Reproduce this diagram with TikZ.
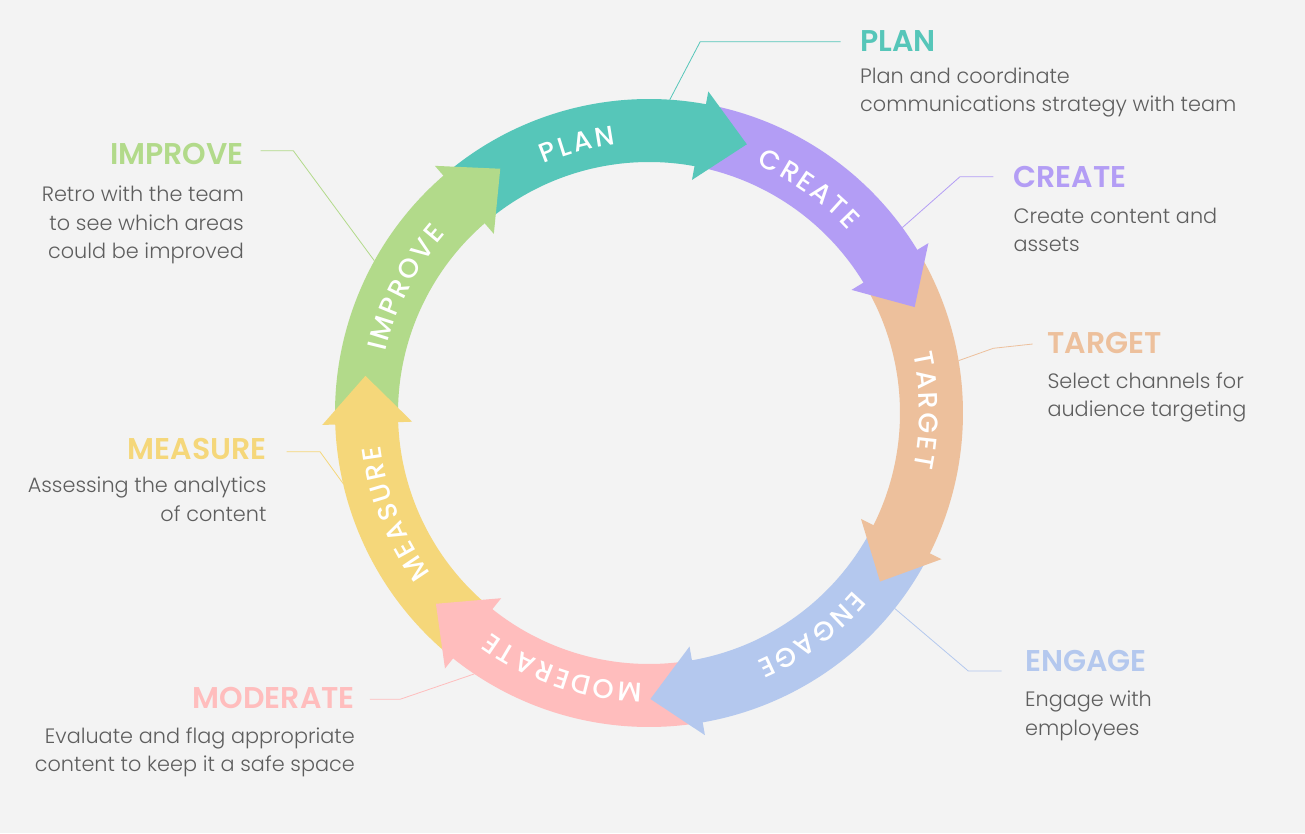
\documentclass[tikz,border=0pt]{standalone}
\usepackage{fontspec}
\setmainfont{Poppins}
\newfontfamily\descfont{Poppins Light}
\newfontfamily\headfont{Poppins SemiBold}
\newfontfamily\ringfont{Poppins Medium}
\usetikzlibrary{decorations.text,calc}
\definecolor{bg}{HTML}{F3F3F3}
\definecolor{cplan}{HTML}{56C6B9}
\definecolor{ccreate}{HTML}{B39DF5}
\definecolor{ctarget}{HTML}{EDC09C}
\definecolor{cengage}{HTML}{B4C8EE}
\definecolor{cmoderate}{HTML}{FFBDBD}
\definecolor{cmeasure}{HTML}{F5D77A}
\definecolor{cimprove}{HTML}{B2DA8A}
\definecolor{desc}{HTML}{5E5E5E}
\newcommand{\arcshaft}[3]{\fill[#1] (#2:314pt) arc[start angle=#2, end angle=#3, radius=314pt] -- (#3:251pt) arc[start angle=#3, end angle=#2, radius=251pt] -- cycle;}
\newcommand{\archead}[2]{\fill[#1] (#2:327pt) -- (#2-9.56:286pt) -- (#2:237pt) -- cycle;}
\newcommand{\rf}{\ringfont\fontsize{27}{27}\selectfont}
\newcommand{\ringlabel}[2]{\path[decorate,decoration={text along path,text color=white,text align=center,text={|\rf|#2}}] (#1+40:270.5pt) arc[start angle=#1+40, end angle=#1-40, radius=270.5pt];}
\tikzset{
  headsty/.style={font=\headfont\fontsize{30}{30}\selectfont, inner sep=0pt},
  descsty/.style={font=\descfont\fontsize{20.8}{20.8}\selectfont, text=desc, inner sep=0pt},
  leader/.style={line width=0.8pt},
}
\def\s{{\kern2.6pt}}
\begin{document}
\begin{tikzpicture}[x=1pt,y=1pt]
\fill[bg] (-649,-420) rectangle (656,413);
\useasboundingbox (-649,-420) rectangle (656,413);
% shafts (each starts inside the previous arrow head)
\arcshaft{cplan}{130.4}{79.05}
\arcshaft{ccreate}{79.05}{30.8}
\arcshaft{ctarget}{30.8}{-27.05}
\arcshaft{cengage}{-27.05}{-80.65}
\arcshaft{cmoderate}{-80.65}{-129.1}
\arcshaft{cmeasure}{-129.1}{-178.4}
\arcshaft{cimprove}{181.6}{130.4}
% heads
\archead{cplan}{79.55}
\archead{ccreate}{31.3}
\archead{ctarget}{-26.55}
\archead{cengage}{-80.15}
\archead{cmoderate}{-128.6}
\archead{cmeasure}{-177.9}
\archead{cimprove}{130.9}
% ring labels
\ringlabel{105}{P\s L\s A\s N}
\ringlabel{54.5}{C\s R\s E\s A\s T\s E}
\ringlabel{0.5}{T\s A\s R\s G\s E\s T}
\ringlabel{-53.7}{E\s N\s G\s A\s G\s E}
\ringlabel{-108.6}{M\s O\s D\s E\s R\s A\s T\s E}
\ringlabel{-158.4}{M\s E\s A\s S\s U\s R\s E}
\ringlabel{152.8}{I\s M\s P\s R\s O\s V\s E}
% PLAN
\node[headsty,text=cplan,anchor=base west] (hplan) at (211,361.3) {PLAN};
\node[descsty,anchor=base west] (dplan1) at (211,329.7) {Plan and coordinate};
\node[descsty,anchor=base west] (dplan2) at (211,301.3) {communications strategy with team};
\coordinate (lplan0) at (86.2:314pt);
\coordinate (lplan1) at (51.2,371.3);
\coordinate (lplan2) at (191.6,371.3);
\draw[leader,cplan] (lplan0) -- (lplan1) -- (lplan2);
% CREATE
\node[headsty,text=ccreate,anchor=base west] (hcreate) at (364.3,225.3) {CREATE};
\node[descsty,anchor=base west] (dcreate1) at (364.3,189.7) {Create content and};
\node[descsty,anchor=base west] (dcreate2) at (364.3,161.3) {assets};
\coordinate (lcreate0) at (36.2:314pt);
\coordinate (lcreate1) at (311,236.3);
\coordinate (lcreate2) at (344.3,236.3);
\draw[leader,ccreate] (lcreate0) -- (lcreate1) -- (lcreate2);
% TARGET
\node[headsty,text=ctarget,anchor=base west] (htarget) at (398.3,59.7) {TARGET};
\node[descsty,anchor=base west] (dtarget1) at (398.3,24.7) {Select channels for};
\node[descsty,anchor=base west] (dtarget2) at (398.3,-3.7) {audience targeting};
\coordinate (ltarget0) at (9.6:314pt);
\coordinate (ltarget1) at (344.3,64.7);
\coordinate (ltarget2) at (383.7,69);
\draw[leader,ctarget] (ltarget0) -- (ltarget1) -- (ltarget2);
% ENGAGE
\node[headsty,text=cengage,anchor=base west] (hengage) at (376,-258.7) {ENGAGE};
\node[descsty,anchor=base west] (dengage1) at (376,-293.7) {Engage with};
\node[descsty,anchor=base west] (dengage2) at (376,-322) {employees};
\coordinate (lengage0) at (-38.5:314pt);
\coordinate (lengage1) at (319.3,-258);
\coordinate (lengage2) at (352.7,-258);
\draw[leader,cengage] (lengage0) -- (lengage1) -- (lengage2);
% MODERATE
\node[headsty,text=cmoderate,anchor=base east] (hmoderate) at (-294,-295) {MODERATE};
\node[descsty,anchor=base east] (dmoderate1) at (-294,-330) {Evaluate and flag appropriate};
\node[descsty,anchor=base east] (dmoderate2) at (-294,-358.5) {content to keep it a safe space};
\coordinate (lmoderate0) at (-123.8:314pt);
\coordinate (lmoderate1) at (-249,-286.3);
\coordinate (lmoderate2) at (-279,-286.3);
\draw[leader,cmoderate] (lmoderate0) -- (lmoderate1) -- (lmoderate2);
% MEASURE
\node[headsty,text=cmeasure,anchor=base east] (hmeasure) at (-382.3,-46.3) {MEASURE};
\node[descsty,anchor=base east] (dmeasure1) at (-382.3,-79.7) {Assessing the analytics};
\node[descsty,anchor=base east] (dmeasure2) at (-382.3,-108.7) {of content};
\coordinate (lmeasure0) at (-167.05:314pt);
\coordinate (lmeasure1) at (-329,-38.7);
\coordinate (lmeasure2) at (-362.3,-38.7);
\draw[leader,cmeasure] (lmeasure0) -- (lmeasure1) -- (lmeasure2);
% IMPROVE
\node[headsty,text=cimprove,anchor=base east] (himprove) at (-405,248.7) {IMPROVE};
\node[descsty,anchor=base east] (dimprove1) at (-405,211.3) {Retro with the team};
\node[descsty,anchor=base east] (dimprove2) at (-405,183) {to see which areas};
\node[descsty,anchor=base east] (dimprove3) at (-405,154.7) {could be improved};
\coordinate (limprove0) at (151:314pt);
\coordinate (limprove1) at (-355.7,262.3);
\coordinate (limprove2) at (-388.3,262.3);
\draw[leader,cimprove] (limprove0) -- (limprove1) -- (limprove2);
\end{tikzpicture}
\end{document}
